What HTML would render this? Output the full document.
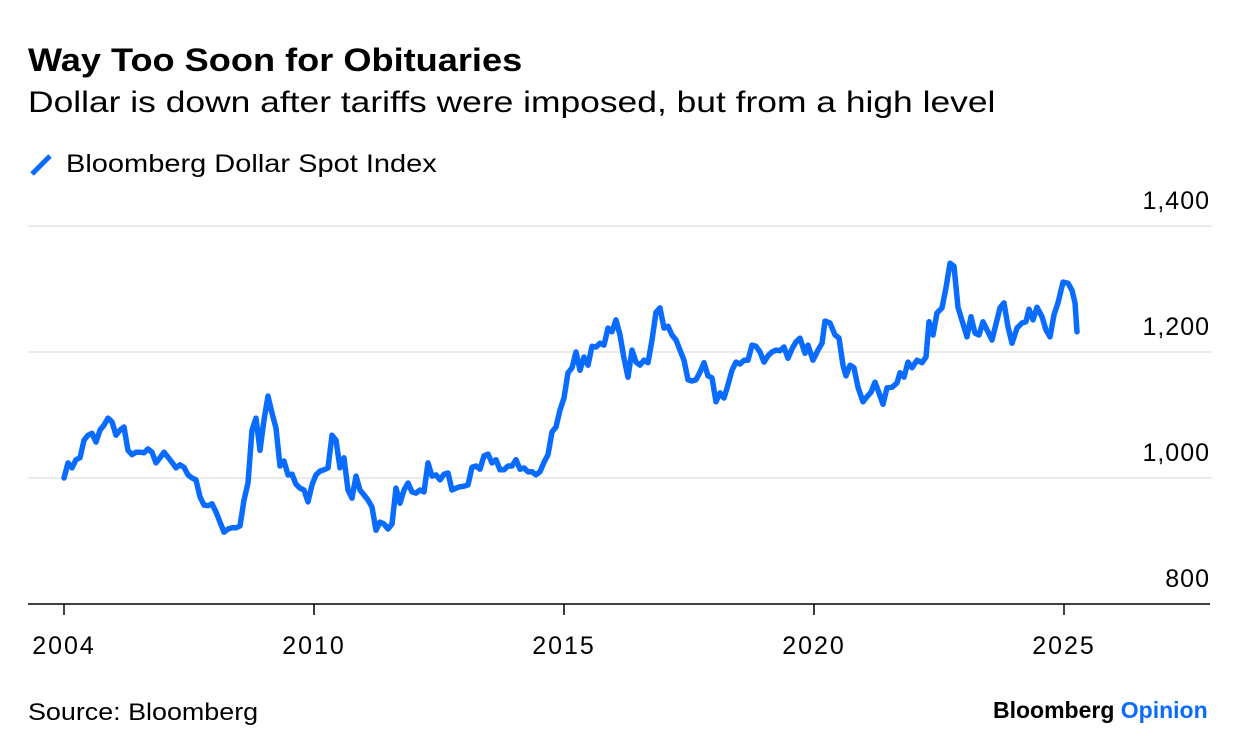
<!DOCTYPE html>
<html><head><meta charset="utf-8">
<style>
body{margin:0;background:#fff;font-family:"Liberation Sans",sans-serif;}
#wrap{position:relative;width:1240px;height:754px;overflow:hidden;}
.t{position:absolute;white-space:nowrap;color:#000;transform-origin:0 50%;}
</style></head>
<body>
<div id="wrap">
<div class="t" style="left:28px;top:42px;font-size:32px;font-weight:bold;transform:scaleX(1.13);">Way Too Soon for Obituaries</div>
<div class="t" style="left:28px;top:86px;font-size:30px;transform:scaleX(1.18);">Dollar is down after tariffs were imposed, but from a high level</div>
<div style="position:absolute;left:28px;top:148px;height:34px;">
<svg width="30" height="34" style="position:absolute;left:0;top:0"><line x1="4" y1="26" x2="22" y2="8" stroke="#0a6cff" stroke-width="5" stroke-linecap="butt"/></svg>
<div class="t" style="left:38px;top:2px;font-size:25px;transform:scaleX(1.16);">Bloomberg Dollar Spot Index</div>
</div>
<svg id="chart" width="1240" height="754" style="position:absolute;left:0;top:0"></svg>
<div class="t" style="left:28px;top:699px;font-size:24px;transform:scaleX(1.12);">Source: Bloomberg</div>
<div class="t" style="left:993px;top:697px;font-size:23px;font-weight:bold;letter-spacing:0px;">Bloomberg <span style="color:#0a6cff">Opinion</span></div>
</div>
<script>
const yTicks=[800,1000,1200,1400];
const yTickLabels=["800","1,000","1,200","1,400"];
const xTicks=[2005,2010,2015,2020,2025];
const xTickLabels=["2004","2010","2015","2020","2025"];
const startYear=2005, monthStep=0.08;
const valuesEarly=[1000,1024,1016,1029,1032,1060,1068,1071,1057,1076,1084,1095,1089,1068,1076,1081,1044,1037,1041,1041,1040,1046,1041,1024,1032,1041,1033,1025,1016,1021,1017,1005,1000,997,970,957,956,959,946,930,914,919,921,921,924,965,992,1076,1095,1044,1092,1130,1103,1079,1019,1027,1005,1006,990,984,981,962,989,1005,1011,1013,1016,1068,1060,1016,1032,981,968,1003,981,973,965,954,917,930,927,919,927,984,960,981,992,978,976,981,978,1024,1003,1005,997,1006,1008,981,984,986,987,989,1017,1019,1014,1035,1038,1024,1029,1013,1013,1019,1019,1029,1014,1016,1010,1010,1005,1010,1025,1037,1073,1081,1108,1127,1167,1175,1200,1171,1192,1179,1209,1208,1214,1211,1238,1232,1251,1227,1190,1160,1203,1184,1179,1187,1183,1219,1263,1270,1238,1241,1227,1219,1203,1187,1156,1154,1156,1168,1183,1162,1159,1121,1135,1127,1148,1171,1184,1181,1187,1187,1211,1209,1200,1184,1194,1200,1203,1202,1208,1190,1205,1216];
const datesLate=[2019.72,2019.82,2019.88,2019.98,2020.08,2020.16,2020.22,2020.32,2020.42,2020.5,2020.58,2020.64,2020.72,2020.8,2020.88,2020.98,2021.06,2021.14,2021.22,2021.3,2021.38,2021.46,2021.56,2021.66,2021.72,2021.8,2021.88,2021.96,2022.06,2022.16,2022.24,2022.3,2022.38,2022.46,2022.56,2022.64,2022.72,2022.8,2022.88,2023.06,2023.14,2023.22,2023.3,2023.38,2023.46,2023.56,2023.66,2023.72,2023.8,2023.88,2023.96,2024.06,2024.16,2024.24,2024.3,2024.38,2024.46,2024.56,2024.64,2024.72,2024.8,2024.88,2024.98,2025.08,2025.16,2025.22,2025.26];
const valuesLate=[1222,1198,1211,1187,1203,1214,1249,1246,1227,1222,1179,1162,1179,1175,1144,1121,1129,1136,1152,1135,1117,1143,1144,1151,1167,1160,1184,1175,1187,1183,1192,1248,1227,1262,1270,1302,1341,1336,1271,1224,1256,1230,1227,1248,1235,1219,1251,1270,1278,1240,1214,1238,1246,1248,1268,1251,1271,1256,1235,1224,1259,1278,1311,1309,1298,1278,1232];

const NS="http://www.w3.org/2000/svg";
const svg=document.getElementById('chart');
const xS=y=>64+(y-2005)*50;
const yS=v=>604-(v-800)*126/200;
function mk(tag,attrs){const e=document.createElementNS(NS,tag);for(const k in attrs)e.setAttribute(k,attrs[k]);svg.appendChild(e);return e;}
yTicks.forEach((t,i)=>{
  if(t>800){const g=mk('line',{x1:28,x2:1212,y1:yS(t),y2:yS(t),stroke:'#ebebeb','stroke-width':2});
  
  }
  const tx=mk('text',{x:1210,y:yS(t)-17,'text-anchor':'end','font-size':25,'letter-spacing':1,'font-family':'Liberation Sans, sans-serif',fill:'#000'});
  tx.textContent=yTickLabels[i];
  
  
});
const ax=mk('line',{x1:28,x2:1210,y1:604,y2:604,stroke:'#000','stroke-width':1.5});


xTicks.forEach((t,i)=>{
  const tk=mk('line',{x1:xS(t),x2:xS(t),y1:604,y2:615,stroke:'#000','stroke-width':1.5});
  
  
  const tx=mk('text',{x:xS(t),y:654,'text-anchor':'middle','font-size':25,'letter-spacing':2,'font-family':'Liberation Sans, sans-serif',fill:'#000'});
  tx.textContent=xTickLabels[i];
  
  
});
const pts=[];
valuesEarly.forEach((v,i)=>pts.push([xS(startYear+i*monthStep),yS(v)]));
valuesLate.forEach((v,i)=>pts.push([xS(datesLate[i]),yS(v)]));
const ln=mk('path',{d:'M'+pts.map(p=>p[0].toFixed(1)+','+p[1].toFixed(1)).join('L'),fill:'none',stroke:'#0a6cff','stroke-width':5.5,'stroke-linejoin':'round','stroke-linecap':'round'});


</script>
</body></html>
